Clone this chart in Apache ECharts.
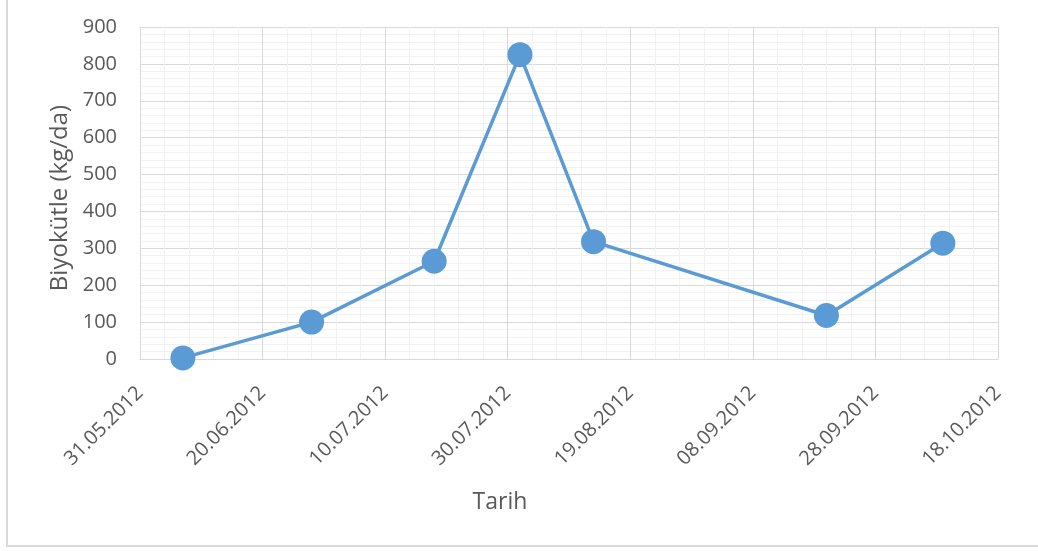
<!DOCTYPE html>
<html>
<head>
<meta charset="utf-8">
<script src="https://cdn.jsdelivr.net/npm/echarts@6/dist/echarts.min.js"></script>
<style>
  html, body { margin: 0; padding: 0; background: #fff; }
  #chart { width: 1038px; height: 551px; }
</style>
</head>
<body>
<div id="chart"></div>
<script>
// sampling dates and biomass (kg/da)
const startDate = '31.05.2012'
const dates = ['07.06.2012', '28.06.2012', '18.07.2012', '01.08.2012', '13.08.2012', '20.09.2012', '09.10.2012']
const biomass = [3, 100, 265, 825, 318, 118, 314]
const yTicks = [0, 900, 100]
const xSpanDays = 140
const xStepDays = 20

const DAY = 86400000

function parseDate(s) {
  const [d, m, y] = s.split('.').map(Number)
  return Date.UTC(y, m - 1, d)
}

function formatDate(ms) {
  const dt = new Date(ms)
  const pad = (n) => String(n).padStart(2, '0')
  return pad(dt.getUTCDate()) + '.' + pad(dt.getUTCMonth() + 1) + '.' + dt.getUTCFullYear()
}

const t0 = parseDate(startDate)
const points = dates.map((d, i) => [Math.round((parseDate(d) - t0) / DAY), biomass[i]])

const textColor = '#595959'
const majorGrid = '#d9d9d9'
const minorGrid = '#f2f2f2'
const font = '"Open Sans", sans-serif'

const chart = echarts.init(document.getElementById('chart'))

chart.setOption({
  backgroundColor: '#fff',
  animation: false,
  graphic: [
    {
      type: 'rect',
      shape: { x: 7, y: -5, width: 1100, height: 551 },
      style: { fill: 'none', stroke: '#d9d9d9', lineWidth: 2 },
      silent: true
    }
  ],
  grid: { left: 140, right: 40, top: 27, bottom: 192, containLabel: false },
  xAxis: {
    type: 'value',
    min: 0,
    max: xSpanDays,
    interval: xStepDays,
    name: 'Tarih',
    nameLocation: 'middle',
    nameGap: 132,
    nameTextStyle: { color: textColor, fontSize: 23, fontFamily: font, padding: [0, 138, 0, 0] },
    axisLine: { show: true, lineStyle: { color: majorGrid, width: 1 } },
    axisTick: { show: false },
    axisLabel: {
      rotate: 45,
      margin: 31,
      color: textColor,
      fontSize: 20,
      fontFamily: font,
      showMinLabel: true,
      showMaxLabel: true,
      formatter: (v) => formatDate(t0 + v * DAY)
    },
    splitLine: { show: true, lineStyle: { color: majorGrid, width: 1 } },
    minorTick: { show: false, splitNumber: 5 },
    minorSplitLine: { show: true, lineStyle: { color: minorGrid, width: 1 } }
  },
  yAxis: {
    type: 'value',
    min: yTicks[0],
    max: yTicks[1],
    interval: yTicks[2],
    name: 'Biyokütle (kg/da)',
    nameLocation: 'middle',
    nameGap: 68,
    nameTextStyle: { color: textColor, fontSize: 24, fontFamily: font, padding: [0, 10, 0, 0] },
    axisLine: { show: false },
    axisTick: { show: false },
    axisLabel: { margin: 23, color: textColor, fontSize: 20, fontFamily: font },
    splitLine: { show: true, lineStyle: { color: majorGrid, width: 1 } },
    minorTick: { show: false, splitNumber: 5 },
    minorSplitLine: { show: true, lineStyle: { color: minorGrid, width: 1 } }
  },
  series: [
    {
      type: 'line',
      data: points,
      symbol: 'circle',
      symbolSize: 25,
      lineStyle: { color: '#5b9bd5', width: 3.5 },
      itemStyle: { color: '#5b9bd5' }
    }
  ]
})
</script>
</body>
</html>
